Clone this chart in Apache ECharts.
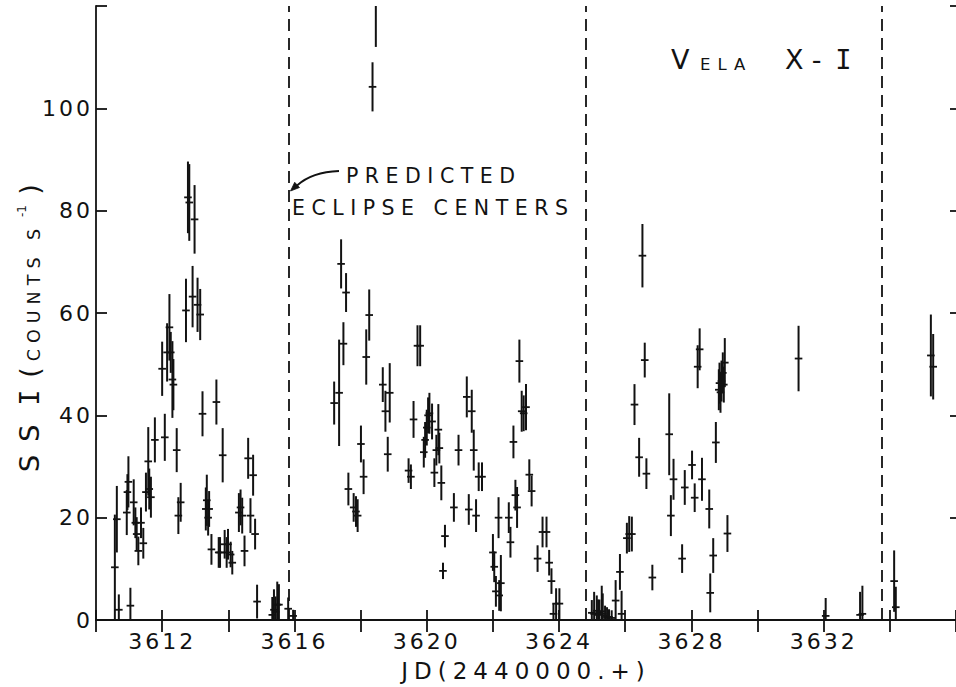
<!DOCTYPE html>
<html>
<head>
<meta charset="utf-8">
<title>Vela X-1 SSI light curve</title>
<script src="https://cdn.jsdelivr.net/npm/echarts@6/dist/echarts.min.js"></script>
<style>
  html, body { margin: 0; padding: 0; background: #fff; }
  #chart { width: 956px; height: 687px; }
</style>
</head>
<body>
<div id="chart"></div>
<script>
// SSI count rate of Vela X-1 versus Julian Date (2440000+).
// Each record: [JD, counts per second, 1-sigma error]

// Before the first predicted eclipse
const cycle1 = [
  [3610.57, 10.3, 10.3], [3610.63, 19.7, 6.5], [3610.69, 2.0, 3.0], [3610.93, 21.0, 4.4],
  [3610.95, 25.0, 3.5], [3610.98, 27.0, 5.0], [3611.04, 2.8, 3.5], [3611.14, 23.0, 4.5],
  [3611.19, 19.0, 3.0], [3611.23, 16.8, 3.3], [3611.28, 13.5, 2.8], [3611.36, 19.0, 3.0],
  [3611.43, 15.0, 3.0], [3611.51, 25.0, 3.8], [3611.58, 31.0, 6.7], [3611.61, 25.6, 4.0],
  [3611.66, 24.0, 4.0], [3611.78, 35.2, 4.4], [3612.00, 49.1, 5.3], [3612.08, 35.7, 4.6],
  [3612.15, 52.3, 5.7], [3612.22, 57.2, 6.5], [3612.26, 52.3, 4.0], [3612.31, 47.0, 7.5],
  [3612.34, 46.0, 5.0], [3612.44, 33.2, 4.3], [3612.49, 20.4, 3.6], [3612.56, 23.0, 3.8],
  [3612.72, 60.5, 6.2], [3612.78, 82.6, 7.0], [3612.82, 81.6, 7.5], [3612.92, 63.2, 6.0],
  [3612.98, 78.3, 6.7], [3613.07, 61.6, 5.3], [3613.15, 59.7, 5.0], [3613.22, 40.3, 4.4],
  [3613.32, 21.7, 4.2], [3613.35, 23.4, 5.0], [3613.39, 20.0, 3.5], [3613.42, 21.7, 3.5],
  [3613.49, 13.8, 3.0], [3613.64, 42.6, 4.4], [3613.71, 13.2, 3.0], [3613.75, 13.2, 3.0],
  [3613.83, 32.2, 5.3], [3613.89, 14.8, 2.8], [3613.95, 13.2, 3.0], [3613.99, 14.8, 3.0],
  [3614.07, 12.8, 2.5], [3614.12, 11.2, 2.3], [3614.32, 21.0, 3.8], [3614.37, 22.0, 3.5],
  [3614.42, 20.4, 3.5], [3614.49, 13.5, 3.0], [3614.60, 31.6, 4.0], [3614.67, 20.4, 3.4],
  [3614.75, 28.3, 4.0], [3614.81, 16.8, 3.0], [3614.87, 3.6, 3.3], [3615.33, 1.0, 3.5],
  [3615.38, 2.0, 4.0], [3615.43, 1.6, 3.0], [3615.48, 3.0, 4.5], [3615.53, 3.0, 4.0],
  [3615.81, 2.2, 2.2], [3615.96, 0.8, 1.2]
];

// Between the first and second predicted eclipses
const cycle2 = [
  [3617.20, 42.4, 4.2], [3617.35, 44.4, 10.4], [3617.41, 69.6, 4.8], [3617.48, 54.0, 4.2],
  [3617.56, 64.0, 3.8], [3617.63, 25.6, 3.2], [3617.79, 22.0, 2.8], [3617.86, 21.2, 3.0],
  [3617.91, 20.4, 3.2], [3618.01, 34.4, 3.6], [3618.09, 28.0, 3.4], [3618.17, 51.4, 5.4],
  [3618.26, 59.6, 5.0], [3618.36, 104.2, 4.8], [3618.46, 124.0, 12.0], [3618.67, 46.0, 3.4],
  [3618.75, 40.8, 4.0], [3618.82, 32.4, 3.4], [3618.88, 44.4, 5.8], [3619.45, 29.2, 2.4],
  [3619.52, 28.0, 2.4], [3619.60, 39.2, 3.6], [3619.72, 53.6, 4.0], [3619.80, 53.6, 4.0],
  [3619.91, 32.8, 3.0], [3619.95, 35.2, 3.5], [3620.00, 37.6, 3.5], [3620.04, 40.0, 3.5],
  [3620.08, 40.4, 4.0], [3620.16, 38.8, 3.5], [3620.23, 28.8, 2.8], [3620.29, 33.2, 3.0],
  [3620.35, 37.2, 5.0], [3620.38, 33.6, 3.0], [3620.44, 26.8, 3.4], [3620.49, 9.6, 1.6],
  [3620.55, 16.4, 2.2], [3620.82, 22.0, 2.8], [3620.96, 33.2, 3.0], [3621.21, 43.6, 4.0],
  [3621.27, 21.6, 3.0], [3621.36, 40.8, 4.2], [3621.42, 33.2, 4.0], [3621.49, 20.4, 3.2],
  [3621.57, 28.0, 2.8], [3621.67, 28.0, 2.8], [3622.00, 13.2, 3.6], [3622.04, 10.4, 3.0],
  [3622.09, 5.6, 3.0], [3622.17, 20.0, 4.0], [3622.19, 4.8, 3.0], [3622.24, 7.2, 5.5],
  [3622.48, 20.0, 3.0], [3622.53, 15.2, 3.0], [3622.62, 34.8, 3.2], [3622.68, 24.4, 3.0],
  [3622.73, 22.0, 4.0], [3622.80, 50.6, 4.2], [3622.87, 40.8, 4.0], [3622.93, 40.4, 3.5],
  [3623.00, 41.6, 4.5], [3623.10, 28.4, 3.0], [3623.17, 25.2, 3.0], [3623.35, 12.0, 2.6],
  [3623.50, 17.2, 3.0], [3623.62, 17.2, 3.0], [3623.70, 11.2, 2.5], [3623.77, 7.6, 2.5],
  [3623.83, 1.2, 2.0], [3623.91, 3.2, 3.0], [3624.01, 3.2, 3.0]
];

// Between the second and third predicted eclipses
const cycle3 = [
  [3624.99, 1.4, 2.5], [3625.06, 1.2, 4.3], [3625.14, 1.8, 3.0], [3625.18, 1.0, 3.0],
  [3625.22, 1.5, 2.5], [3625.29, 1.7, 5.0], [3625.32, 1.2, 4.0], [3625.39, 0.8, 2.0],
  [3625.45, 0.5, 2.0], [3625.51, 0.6, 1.5], [3625.59, 0.4, 1.5], [3625.71, 3.8, 4.0],
  [3625.84, 9.4, 3.5], [3625.89, 1.2, 4.5], [3626.05, 16.0, 3.0], [3626.12, 16.8, 3.5],
  [3626.20, 16.8, 3.4], [3626.28, 42.1, 4.0], [3626.42, 31.8, 3.8], [3626.52, 71.2, 6.2],
  [3626.59, 50.8, 3.4], [3626.64, 28.6, 3.0], [3626.82, 8.3, 2.5], [3627.33, 36.3, 8.0],
  [3627.38, 20.4, 4.0], [3627.46, 27.5, 4.0], [3627.72, 12.0, 2.8], [3627.80, 25.9, 3.4],
  [3628.02, 30.3, 2.8], [3628.10, 23.9, 2.8], [3628.19, 49.5, 4.2], [3628.25, 52.9, 4.1],
  [3628.32, 27.5, 4.2], [3628.54, 21.7, 3.8], [3628.57, 5.3, 3.8], [3628.66, 12.6, 3.4],
  [3628.74, 34.7, 4.0], [3628.83, 45.0, 4.0], [3628.85, 46.3, 4.0], [3628.88, 44.5, 4.0],
  [3628.91, 46.7, 4.0], [3628.95, 48.3, 4.0], [3628.98, 46.0, 3.5], [3629.01, 50.3, 4.8],
  [3629.09, 16.9, 3.6], [3631.24, 51.1, 6.4], [3632.06, 0.8, 3.5], [3633.10, 1.0, 4.5],
  [3633.17, 1.2, 5.5]
];

// After the third predicted eclipse
const cycle4 = [
  [3634.13, 7.6, 6.0], [3634.18, 2.5, 4.0], [3635.24, 51.7, 8.0], [3635.31, 49.5, 6.4]
];

// Predicted mid-eclipse times (JD - 2440000)
const eclipseCenters = [3615.83, 3624.80, 3633.76];

// Axis ranges and labelled ticks
const jdRange = [3610, 3636];
const rateRange = [0, 120];
const xTickLabels = [3612, 3616, 3620, 3624, 3628, 3632];
const yTickLabels = [0, 20, 40, 60, 80, 100];

const INK = '#121212';
const FONT = '"DejaVu Sans", sans-serif';
const MONO = '"DejaVu Sans Mono", monospace';

const dom = document.getElementById('chart');
const chart = echarts.init(dom, null, { renderer: 'svg', width: 956, height: 687 });

// Wide lettering: extra tracking for the hand-lettered labels
const tracking = {
  'SS': 13, 'COUNTS S': 6, 'ELA': 7, 'X-': 9.5,
  'PREDICTED': 6.5, 'ECLIPSE CENTERS': 6.5, 'JD(2440000.+)': 6
};
function applyTracking() {
  dom.querySelectorAll('text').forEach(t => {
    const s = t.textContent;
    const v = (s in tracking) ? tracking[s] : (/^\d+$/.test(s) ? 3 : 0);
    t.style.letterSpacing = v + 'px';
  });
}
chart.on('finished', applyTracking);

function errorBar(params, api) {
  const x = api.value(0), y = api.value(1), e = api.value(2);
  const c = api.coord([x, y]);
  const hi = api.coord([x, y + e]);
  const lo = api.coord([x, y - e]);
  const cs = params.coordSys;
  const top = Math.max(hi[1], cs.y);
  const bottom = Math.min(lo[1], cs.y + cs.height);
  const children = [];
  if (bottom > top) {
    children.push({
      type: 'line',
      shape: { x1: c[0], y1: top, x2: c[0], y2: bottom },
      style: { stroke: INK, lineWidth: 2 }
    });
  }
  if (c[1] >= cs.y && c[1] <= cs.y + cs.height) {
    children.push({
      type: 'line',
      shape: { x1: c[0] - 3.8, y1: c[1], x2: c[0] + 3.8, y2: c[1] },
      style: { stroke: INK, lineWidth: 1.8 }
    });
  }
  return { type: 'group', children };
}

const allPoints = [].concat(cycle1, cycle2, cycle3, cycle4);

const axisLineStyle = { color: INK, width: 1.8 };

function richToken(family, size, width, align, vAlign, extra) {
  return Object.assign({
    fontFamily: family, fontSize: size, lineHeight: size, fontWeight: 'normal',
    width: width, align: align, verticalAlign: vAlign, color: INK
  }, extra || {});
}

const option = {
  backgroundColor: '#ffffff',
  animation: false,
  grid: { left: 96, right: 0, top: 6, bottom: 67, containLabel: false, outerBoundsMode: 'none' },
  title: {
    text: '{v|V}{s|ELA}{x|X-}{i|I}',
    left: 671,
    top: 46,
    padding: 0,
    textStyle: {
      color: INK,
      fontFamily: FONT,
      fontWeight: 'normal',
      rich: {
        v: richToken(FONT, 27, 29, 'left', 'bottom'),
        s: richToken(FONT, 16.5, 85, 'left', 'bottom'),
        x: richToken(FONT, 27, 51, 'left', 'bottom'),
        i: richToken(MONO, 27, 15, 'center', 'bottom')
      }
    }
  },
  xAxis: [
    {
      type: 'value',
      position: 'bottom',
      min: jdRange[0],
      max: jdRange[1],
      interval: 2,
      name: 'JD(2440000.+)',
      nameLocation: 'middle',
      nameGap: 39,
      nameMoveOverlap: false,
      nameTextStyle: { fontFamily: FONT, fontSize: 23, color: INK },
      axisLine: { show: true, lineStyle: axisLineStyle },
      axisTick: { show: true, inside: true, length: 10, lineStyle: { color: INK, width: 1.8 } },
      axisLabel: {
        margin: 10,
        fontFamily: FONT,
        fontSize: 22,
        color: INK,
        formatter: v => (xTickLabels.indexOf(v) >= 0 ? String(v) : '')
      },
      splitLine: { show: false }
    },
    {
      type: 'value',
      position: 'top',
      min: jdRange[0],
      max: jdRange[1],
      interval: 2,
      axisLine: { show: true, lineStyle: axisLineStyle },
      axisTick: { show: true, inside: true, length: 12, lineStyle: { color: INK, width: 1.8 } },
      axisLabel: { show: false },
      splitLine: { show: false }
    }
  ],
  yAxis: [
    {
      type: 'value',
      position: 'left',
      min: rateRange[0],
      max: rateRange[1],
      interval: 20,
      name: '{ss|SS}{i|I}{p|(}{sc|COUNTS S}{sup|-1}{p|)}',
      nameLocation: 'middle',
      nameRotate: 90,
      nameGap: 53,
      nameMoveOverlap: false,
      nameTextStyle: {
        color: INK,
        fontFamily: FONT,
        fontWeight: 'normal',
        padding: [0, 25, 0, 0],
        rich: {
          ss: richToken(FONT, 27, 60, 'left', 'bottom'),
          i: richToken(MONO, 27, 29, 'center', 'bottom'),
          p: richToken(FONT, 27, 21, 'left', 'bottom'),
          sc: richToken(FONT, 17.5, 140, 'left', 'bottom'),
          sup: richToken(FONT, 12, 22, 'left', 'top', { padding: [0, 0, 26, 0] })
        }
      },
      axisLine: { show: true, lineStyle: axisLineStyle },
      axisTick: { show: true, inside: true, length: 11, lineStyle: { color: INK, width: 1.8 } },
      axisLabel: {
        margin: 3,
        fontFamily: FONT,
        fontSize: 22,
        color: INK,
        formatter: v => (yTickLabels.indexOf(v) >= 0 ? String(v) : '')
      },
      splitLine: { show: false }
    },
    {
      type: 'value',
      position: 'right',
      min: rateRange[0],
      max: rateRange[1],
      interval: 20,
      axisLine: { show: false },
      axisTick: { show: true, inside: true, length: 6, lineStyle: { color: INK, width: 1.8 } },
      axisLabel: { show: false },
      splitLine: { show: false }
    }
  ],
  graphic: [
    {
      type: 'text',
      x: 346, y: 176,
      style: {
        text: 'PREDICTED', font: '20.5px ' + FONT, fill: INK,
        textAlign: 'left', align: 'left', textVerticalAlign: 'middle', verticalAlign: 'middle'
      }
    },
    {
      type: 'text',
      x: 292, y: 207.5,
      style: {
        text: 'ECLIPSE CENTERS', font: '20.5px ' + FONT, fill: INK,
        textAlign: 'left', align: 'left', textVerticalAlign: 'middle', verticalAlign: 'middle'
      }
    },
    {
      type: 'bezierCurve',
      shape: { x1: 339, y1: 171, cpx1: 312, cpy1: 172, x2: 297, y2: 185.5 },
      style: { stroke: INK, lineWidth: 1.8, fill: null }
    },
    {
      type: 'polygon',
      shape: { points: [[290.5, 191], [299.5, 187.5], [294.7, 182.3]] },
      style: { fill: INK, stroke: INK, lineWidth: 0.8 }
    }
  ],
  series: [
    {
      name: 'SSI rate',
      type: 'custom',
      xAxisIndex: 0,
      yAxisIndex: 0,
      renderItem: errorBar,
      encode: { x: 0, y: 1 },
      data: allPoints,
      silent: true,
      z: 3
    },
    {
      name: 'Predicted eclipse centers',
      type: 'line',
      xAxisIndex: 0,
      yAxisIndex: 0,
      data: [],
      silent: true,
      markLine: {
        silent: true,
        symbol: ['none', 'none'],
        label: { show: false },
        lineStyle: { color: INK, width: 1.8, type: [12, 7] },
        data: eclipseCenters.map(v => ({ xAxis: v }))
      }
    }
  ]
};

chart.setOption(option);
applyTracking();
setTimeout(applyTracking, 50);
</script>
</body>
</html>
